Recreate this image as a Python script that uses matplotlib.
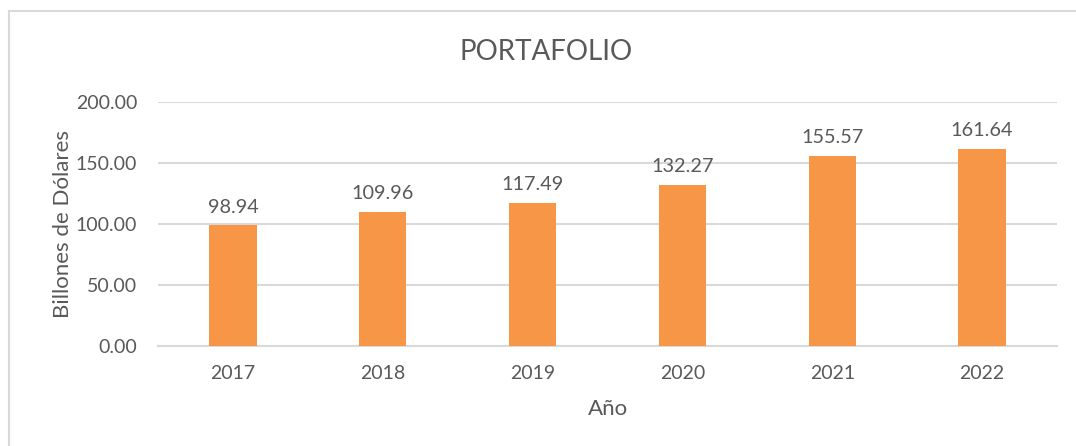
import matplotlib.pyplot as plt
from matplotlib.patches import Rectangle

# Datos
anios = ["2017", "2018", "2019", "2020", "2021", "2022"]
valores = [98.94, 109.96, 117.49, 132.27, 155.57, 161.64]
ticks_y = [0, 50, 100, 150, 200]

gris = "#595959"
naranja = "#F79646"

plt.rcParams["font.family"] = ["Lato", "DejaVu Sans"]

fig = plt.figure(figsize=(10.76, 4.46), dpi=100)
ax = fig.add_axes([158 / 1076, 100 / 446, (1057 - 158) / 1076, 244 / 446])

# Marco del gráfico
fig.patches.append(Rectangle((9 / 1076, -0.05), 1.1, (435 / 446) + 0.05,
                             transform=fig.transFigure, fill=False,
                             edgecolor="#D9D9D9", linewidth=1.5))

x = range(len(anios))
barras = ax.bar(x, valores, width=0.315, color=naranja, zorder=3)

for xi, v in zip(x, valores):
    ax.text(xi, v + 8, f"{v:.2f}", ha="center", va="bottom",
            fontsize=14.3, color=gris)

ax.set_xlim(-0.5, len(anios) - 0.5)
ax.set_ylim(0, 200)
ax.set_yticks(ticks_y)
ax.set_yticklabels([f"{t:.2f}" for t in ticks_y])
ax.set_xticks(list(x))
ax.set_xticklabels(anios)
ax.tick_params(axis="both", length=0, labelsize=14, labelcolor=gris)
ax.tick_params(axis="x", pad=14)
ax.tick_params(axis="y", pad=15)

ax.grid(axis="y", color="#D9D9D9", linewidth=1.5, zorder=0)
for s in ["top", "right", "left"]:
    ax.spines[s].set_visible(False)
ax.spines["bottom"].set_color("#D9D9D9")
ax.spines["bottom"].set_linewidth(1.5)

ax.set_xlabel("Año", fontsize=16, color=gris, labelpad=12)
ax.set_ylabel("Billones de Dólares", fontsize=16, color=gris, labelpad=2)

fig.text(546 / 1076, 1 - 52 / 446, "PORTAFOLIO", ha="center", va="center",
         fontsize=20, color=gris)

plt.savefig("out.png", dpi=100)
